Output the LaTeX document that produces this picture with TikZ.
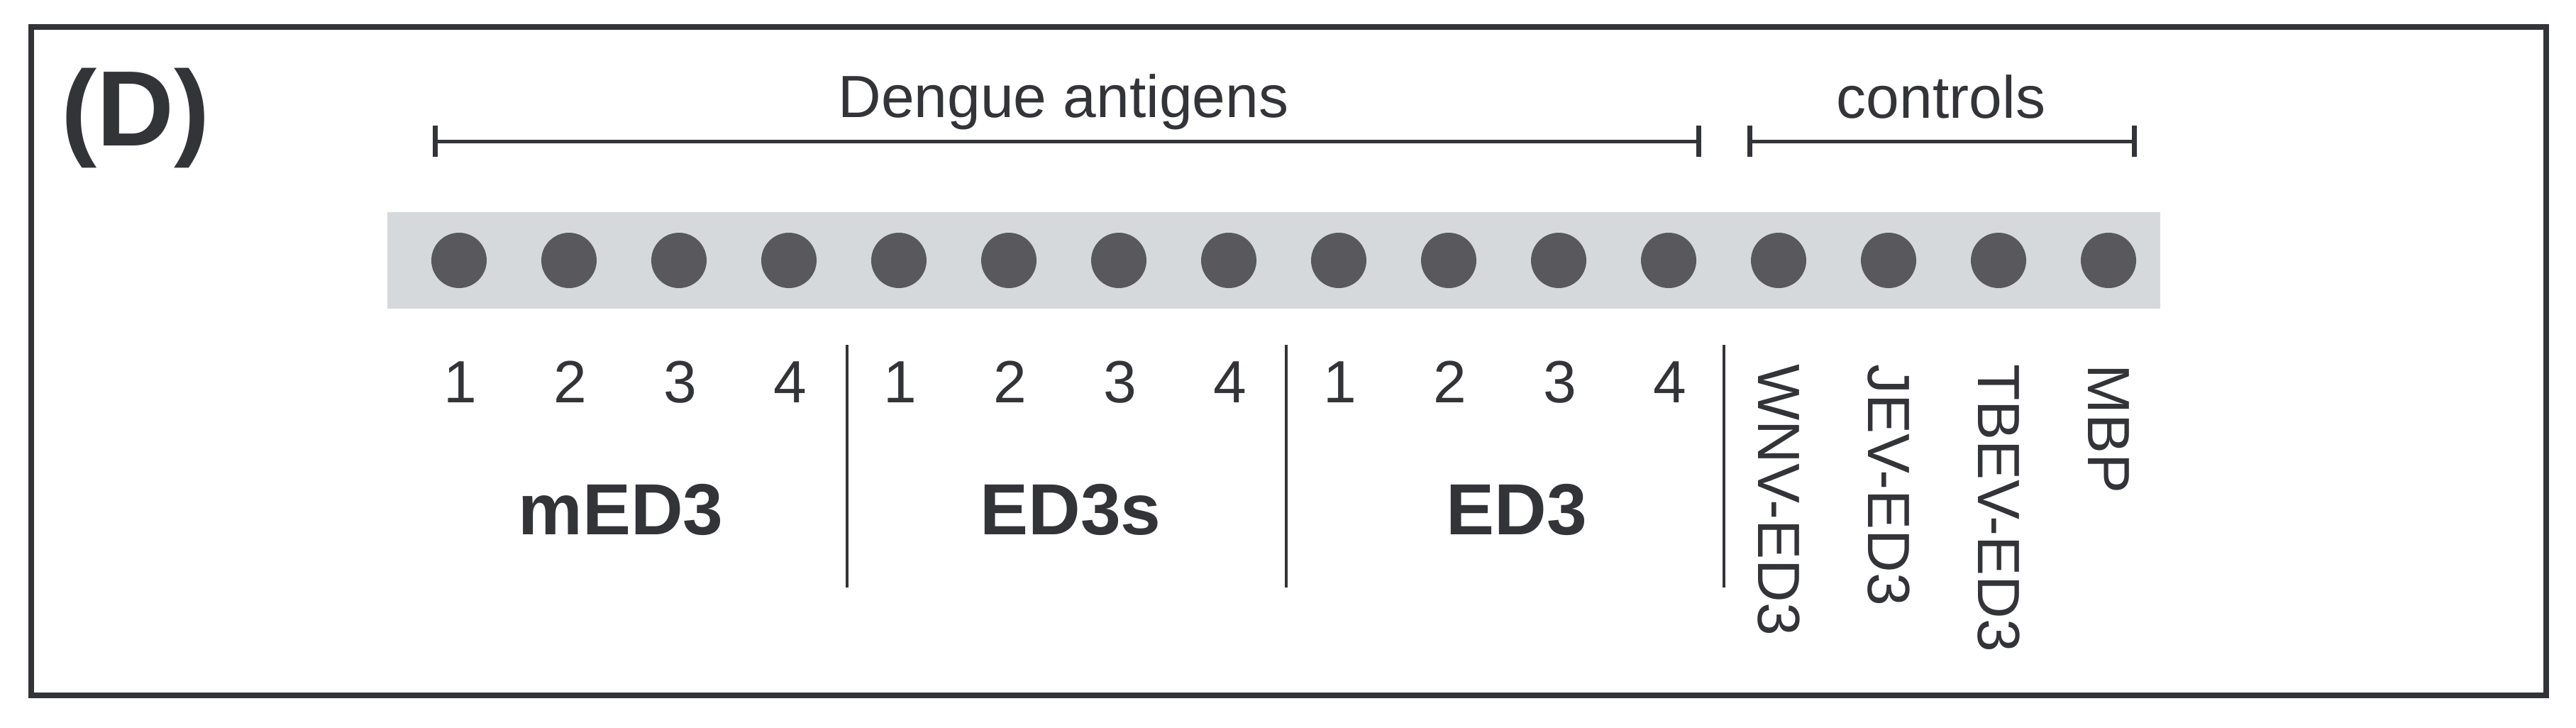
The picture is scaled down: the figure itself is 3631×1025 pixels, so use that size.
\documentclass[tikz,border=0pt]{standalone}
\usepackage{fontspec}
\setmainfont{Liberation Sans}
\definecolor{ink}{HTML}{333438}
\definecolor{dotc}{HTML}{58585D}
\definecolor{stripc}{HTML}{D6D9DC}
\begin{document}
\begin{tikzpicture}[x=1pt,y=-1pt,
  txt/.style={inner sep=0, text=ink, font=\fontsize{84}{96}\selectfont},
  boldlab/.style={inner sep=0, text=ink, font=\fontsize{102}{120}\selectfont\bfseries, anchor=base},
  spot/.style={circle, fill=dotc, minimum size=78pt, inner sep=0},
  divider/.style={draw=ink, line width=4pt},
  brk/.style={draw=ink, line width=5pt},
  tick/.style={draw=ink, line width=7pt},
  vlab/.style={txt, rotate=-90, anchor=base west}]
\useasboundingbox (0,0) rectangle (3631,1025);
\fill[white] (0,0) rectangle (3631,1025);
% frame
\draw[draw=ink, line width=8pt] (44,38) rectangle (3589,980);
% panel label
\node[inner sep=0, text=ink, font=\fontsize{151}{170}\selectfont\bfseries, anchor=base] (panel) at (191,205) {(D)};
% strip
\node[fill=stripc, inner sep=0, minimum width=2499pt, minimum height=136pt] (strip) at (1795.5,367) {};
% spots
\foreach \i in {1,...,16} {
  \node[spot] (d\i) at ({647+155*(\i-1)},367) {};
}
% numbers
\foreach \g in {0,1,2} {
  \foreach \k in {1,...,4} {
    \pgfmathtruncatemacro{\n}{4*\g+\k}
    \node[txt, anchor=base] (n\n) at ({647+155*(\n-1)+2},567) {\k};
  }
}
% group labels
\node[boldlab] (med3) at (875,753) {mED3};
\node[boldlab] (ed3s) at (1509,753) {ED3s};
\node[boldlab] (ed3) at (2138,753) {ED3};
% dividers
\coordinate (v1t) at (1194,486); \coordinate (v1b) at (1194,828);
\coordinate (v2t) at (1813,486); \coordinate (v2b) at (1813,828);
\coordinate (v3t) at (2430,486); \coordinate (v3b) at (2430,828);
\draw[divider] (v1t) -- (v1b);
\draw[divider] (v2t) -- (v2b);
\draw[divider] (v3t) -- (v3b);
% control labels
\node[vlab] (wnv) at (2478,513) {WNV-ED3};
\node[vlab] (jev) at (2633,513) {JEV-ED3};
\node[vlab] (tbev) at (2788,513) {TBEV-ED3};
\node[vlab] (mbp) at (2943,513) {MBP};
% brackets
\node[txt, anchor=base] (dengue) at (1499,165) {Dengue antigens};
\node[txt, anchor=base] (controls) at (2736,166) {controls};
\coordinate (dgL) at (613,199); \coordinate (dgR) at (2394,199);
\coordinate (ctL) at (2466,199); \coordinate (ctR) at (3008,199);
\draw[brk] (dgL) -- (dgR);
\draw[brk] (ctL) -- (ctR);
\foreach \c in {dgL,dgR,ctL,ctR} {
  \draw[tick] ([yshift=-22pt]\c) -- ([yshift=22pt]\c);
}
\end{tikzpicture}
\end{document}
